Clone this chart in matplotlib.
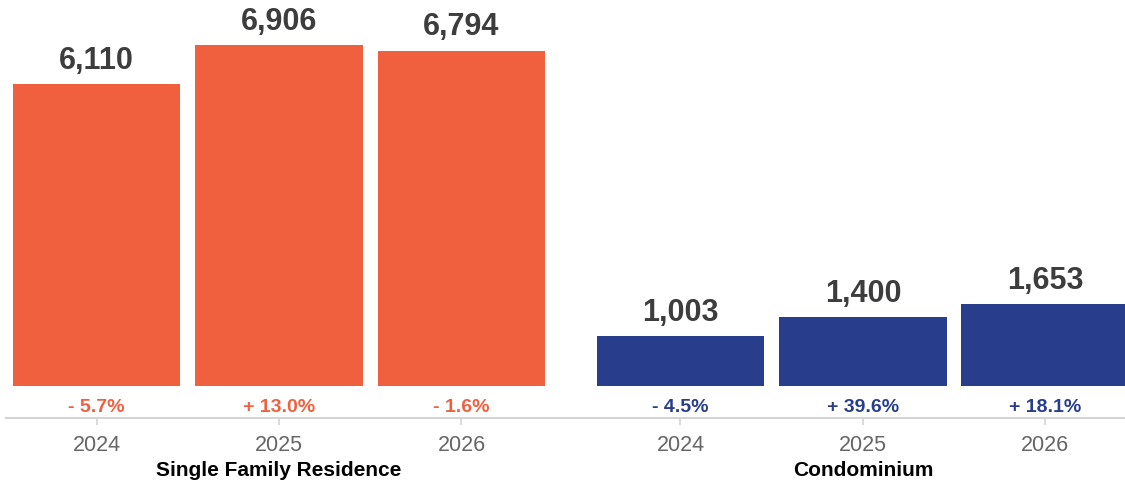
import matplotlib
matplotlib.use('Agg')
import matplotlib.pyplot as plt
import matplotlib.transforms as mtransforms

plt.rcParams['font.family'] = ['Liberation Sans', 'DejaVu Sans']

# Sales forecast by property type
groups = ['Single Family Residence', 'Condominium']
years = ['2024', '2025', '2026']
sfr_values = [6110, 6906, 6794]
condo_values = [1003, 1400, 1653]
sfr_change = ['- 5.7%', '+ 13.0%', '- 1.6%']
condo_change = ['- 4.5%', '+ 39.6%', '+ 18.1%']

colors = ['#F0603F', '#283E8C']
group_gap = 0.2
bar_width = 0.92

fig = plt.figure(figsize=(11.25, 4.84), dpi=100)
ax = fig.add_axes([6 / 1125, 66 / 484, 1 - 6 / 1125, 1 - 66 / 484])

positions = []
labels = []
series = [(sfr_values, sfr_change), (condo_values, condo_change)]
for g, (values, changes) in enumerate(series):
    xs = [g * (len(years) + group_gap) + i for i in range(len(years))]
    ax.bar(xs, values, width=bar_width, color=colors[g], zorder=2)
    for x, v, c in zip(xs, values, changes):
        ax.annotate(f'{v:,}', xy=(x, v), xytext=(0, 11), textcoords='offset points',
                    ha='center', va='baseline', fontsize=22, fontweight='bold',
                    color='#3d3d3d')
        ax.annotate(c, xy=(x, 0), xytext=(0, -18.7), textcoords='offset points',
                    ha='center', va='baseline', fontsize=14, fontweight='bold',
                    color=colors[g])
    trans = mtransforms.blended_transform_factory(ax.transData, fig.transFigure)
    ax.text(xs[1], 8 / 484, groups[g], transform=trans, ha='center', va='baseline',
            fontsize=15, fontweight='bold', color='black')
    positions += xs
    labels += years

ax.set_xlim(-0.496, 5.636)
ax.set_ylim(-648, 7817)
ax.set_xticks(positions)
ax.set_xticklabels(labels)
ax.tick_params(axis='x', length=5, width=1.2, color='#d4d4d4', pad=7,
               labelsize=15.5, labelcolor='#666666')
ax.tick_params(axis='y', left=False, labelleft=False)
for side in ['top', 'right', 'left']:
    ax.spines[side].set_visible(False)
ax.spines['bottom'].set_color('#d4d4d4')
ax.spines['bottom'].set_linewidth(1.5)

fig.savefig('out.png', dpi=100)
